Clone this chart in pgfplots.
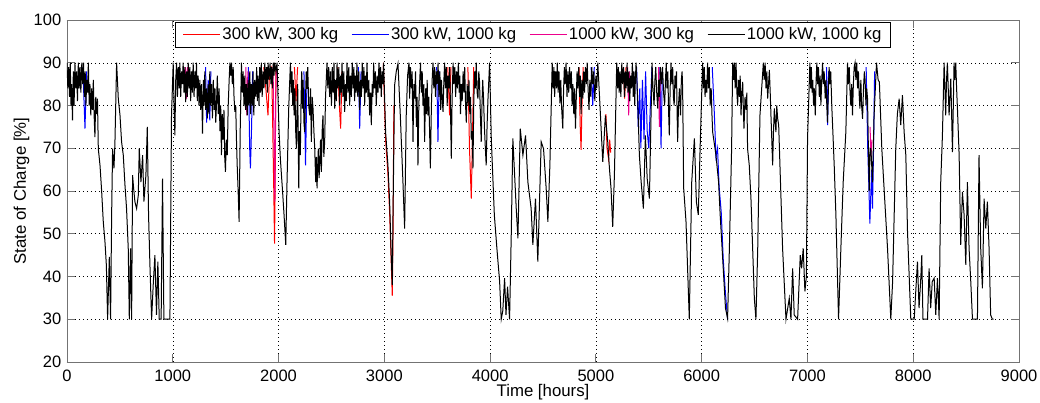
\documentclass[border=0pt]{standalone}
\usepackage{fontspec}
\setmainfont{Liberation Sans}
\usepackage{pgfplots}
\usepackage{pgfplotstable}
\pgfplotsset{compat=1.18}

\pgfplotstableread{
x y
0 90
8 84
16 89
24 82
31 90
38 80
44 85
52 76.5
60 88
67 80
75 90
83 84
91 88
99 81
107 90
115 84
123 89
131 83
140 90
148 85
156 90
164 82
172 88
179 80
186 86
194 83
202 90
210 80
217 85
225 77.7
233 84
241 79
249 86
256 78
264 72.6
272 82
280 78
288 81.6
296 69.9
312 66.0
327 60.2
343 52.8
359 48.1
372 42.7
384 30
400 44.6
412 30
422 54.4
431 69.9
444 65.3
453 71.1
469 90
485 81.6
501 77.7
516 71.5
532 68.4
548 61.4
563 55.9
579 46.6
589 30
601 46.6
611 30
620 63.7
630 60.6
642 57.5
658 55.9
674 59.0
683 69.9
699 62.1
715 68.4
727 57.5
746 63.7
759 75.0
771 54.4
784 42.7
800 30
815 38.0
831 45.0
846 31.0
859 43.5
872 30
890 30
903 62.9
916 30
973 30
988 77.7
1004 90
1012 80
1020 73
1028 86
1036 90
1044 82
1052 89
1060 84
1067 90
1075 82
1083 88
1090 85
1098 90
1106 83
1114 89
1122 80.8
1130 88
1138 82
1146 90
1154 84
1161 89
1169 81
1177 88
1185 83
1193 90
1201 82
1209 88
1217 84
1224 90
1232 81
1240 87
1248 80
1256 86
1264 79
1272 85
1281 73.4
1290 86
1296 80
1303 88
1311 79
1319 84
1327 77
1335 85
1343 78
1350 88
1358 80
1366 85
1375 77
1383 86
1391 79
1399 84
1406 76
1413 80
1421 87
1430 78
1438 84
1446 74
1453 80
1460 68.4
1468 78
1476 72
1484 79
1491 68
1498 64.5
1506 72
1515 68.4
1524 80
1533 86
1540 90
1548 87
1555 90
1563 85
1571 89
1579 82
1587 78.5
1595 80
1602 72
1609 66
1618 60
1627 52.8
1638 75
1649 90
1657 83
1665 88
1673 80
1681 87
1688 79
1696 85
1704 77.7
1712 86
1720 80
1728 88
1736 78
1744 85
1752 80
1759 88
1766 77.7
1775 86
1785 82
1793 89
1800 81
1807 87
1815 80
1822 89
1829 83
1837 90
1845 82
1854 88
1862 84
1870 90
1879 85
1887 89
1895 83
1901 90
1910 86
1920 90
1928 85
1935 89
1942 84
1950 90
1957 87
1964 90
1975 88
1986 90
1995 82
2005 73.8
2017 67.6
2036 60.6
2052 54.4
2068 47.4
2080 62.1
2096 79.3
2112 90
2120 83
2127 88
2134 80
2140 86
2147 77.7
2155 84
2162 74
2169 69.9
2175 80
2181 85
2186 72
2191 60.6
2198 74
2206 68.4
2213 82
2219 88
2225 79.3
2232 86
2240 76
2247 73.8
2255 82
2262 88
2269 83.9
2276 89
2285 80
2294 77.7
2302 84
2310 71.5
2318 82
2326 79.3
2334 74
2342 70
2351 62.1
2357 68
2364 60.6
2370 66
2376 69.9
2383 63
2389 66
2397 72
2405 64.5
2412 74
2420 77.7
2428 68
2436 71.5
2444 82
2451 86
2458 90
2466 84
2474 89
2483 82
2491 88
2500 80
2508 89
2516 83
2524 90
2531 79.3
2539 86
2546 81
2553 90
2561 84
2570 89
2578 80
2586 87
2593 83
2600 90
2609 82
2617 88
2625 78.5
2633 85
2640 81
2647 90
2656 83
2664 89
2672 80
2680 87
2688 82
2697 90
2705 84
2712 89
2719 81
2727 87
2734 83
2741 90
2749 82
2758 88
2767 79
2775 86
2783 82
2791 90
2799 84
2807 89
2814 80
2822 87
2829 83
2836 90
2845 82
2853 86
2861 77.7
2869 83
2877 75.4
2885 85
2892 82
2899 90
2907 84
2915 88
2924 80
2932 87
2940 83
2949 90
2957 84
2964 89
2971 82
2979 88
2986 85
2993 90
3012 73.8
3034 66.0
3050 57.5
3063 46.6
3075 38.0
3082 54.4
3097 84.7
3113 88
3129 89.8
3151 77.7
3176 62.1
3192 51.2
3207 77.7
3220 87
3233 90
3239 81.6
3247 89
3255 84
3263 88
3271 71.5
3279 85
3287 81.6
3295 88
3303 75
3310 82
3318 66
3326 80
3334 85.5
3342 90
3350 83
3358 88
3365 80
3373 85
3381 71.5
3390 84
3398 78
3405 86
3412 77.7
3420 82
3428 74
3435 65.3
3445 80
3452 86
3460 90
3468 84
3476 89
3484 82
3492 88
3500 85
3508 90
3516 82
3525 88
3533 79
3540 86
3548 81
3555 78.5
3563 86
3570 90
3578 84
3586 89
3594 80
3602 87
3610 84
3618 89
3625 80
3633 67.6
3641 82
3650 90
3658 85
3666 89
3674 82
3682 88
3690 84
3700 90
3708 83
3714 87
3720 78
3728 85
3736 81
3745 88
3753 83
3760 89
3768 80
3775 76
3783 85
3792 80
3800 86
3808 78
3815 82
3822 72
3830 74
3838 65.3
3845 80
3853 88
3861 84
3869 90
3877 83
3885 81.6
3893 88
3900 85.5
3908 78
3916 71.5
3923 80
3930 86
3938 81.6
3946 75
3955 70
3963 66
3971 75
3980 81.6
3988 86
3995 90
4011 72.3
4040 54.4
4064 46.6
4090 38.8
4105 30
4120 32
4137 39.6
4150 31
4165 37.6
4184 30
4200 50
4215 72.3
4247 55.9
4263 48.9
4285 74.6
4310 68.4
4335 73.0
4357 62.1
4388 55.9
4404 47.4
4429 58.2
4451 43.5
4483 71.5
4505 69.9
4530 60.6
4546 52.8
4565 66.0
4587 90
4595 84
4603 89
4610 82
4618 88
4627 84
4635 90
4643 83
4651 88
4660 80.5
4668 86
4675 80
4687 74.6
4695 84
4702 89
4710 85
4718 90
4727 82
4735 88
4743 83
4751 89
4760 84
4768 88
4775 80
4783 85
4791 78
4799 84
4807 74.6
4815 82
4822 88
4830 84
4838 89
4846 82
4853 87
4860 78
4868 86
4877 81.6
4885 88
4893 83
4901 89
4910 85
4918 90
4926 84
4935 79
4943 86
4952 82
4961 89
4970 85
4980 88
4990 81
5000 87
5008 84
5018 90
5040 79.3
5065 66.8
5090 77.7
5112 71.5
5128 65.3
5143 60.6
5159 51.6
5175 63.7
5197 90
5205 84
5212 89
5220 83
5228 88
5236 82
5245 90
5253 85
5262 89
5270 82
5278 88
5286 84
5295 90
5303 83
5311 88
5320 81
5328 87
5336 84
5345 90
5353 82
5360 88
5367 80
5373 86
5380 90
5395 81.6
5411 68.4
5428 62.1
5449 55.9
5468 73.0
5485 62.9
5506 58.2
5531 90
5540 84
5550 80
5558 86
5566 89
5575 83
5585 79.3
5593 86
5600 82
5610 89
5620 85
5630 89
5640 83
5650 80
5658 86
5665 90
5672 84
5680 88
5688 78
5694 73
5702 84
5710 90
5718 85
5726 89
5733 82
5740 80
5748 87
5755 84
5762 88
5768 78
5773 71.5
5781 80
5790 84
5800 77.7
5808 86
5815 88
5820 84
5830 60.6
5852 52.8
5867 41.9
5883 30
5906 62.1
5931 72.3
5950 57.5
5968 54.4
5987 71.5
6009 90
6017 84
6025 89
6032 82
6040 86
6048 83
6056 90
6064 84
6072 89
6080 80
6090 84
6097 78
6104 73.8
6135 68.4
6160 62.1
6175 54.4
6204 41.9
6225 32.6
6245 30.2
6262 46.6
6283 69.9
6293 90
6301 86
6309 90
6317 84
6325 90
6333 83
6340 80
6348 86
6356 82
6364 87
6372 77.7
6380 83
6388 85.5
6394 79
6400 74.6
6410 82
6420 79
6427 83
6434 69.9
6450 66.0
6466 58.2
6498 34.9
6513 30
6530 46.6
6551 77.7
6583 90
6591 86
6600 90
6608 84
6616 88
6624 81.6
6632 85
6640 88.3
6648 83
6655 77.7
6663 72
6671 66
6679 74
6687 79.3
6695 76
6702 73.8
6710 80
6718 77
6728 75.4
6735 70
6740 66
6765 46.6
6797 30
6828 34.9
6844 30
6860 41.9
6875 31
6907 30
6932 45
6945 41.9
6960 46.6
6976 36.5
6990 40
7001 72.3
7023 90
7030 84
7037 89
7044 83
7050 86
7058 80
7066 84
7074 77.7
7082 86
7089 90
7096 85
7104 89
7112 82
7120 87
7127 80
7135 86
7143 90
7150 85
7158 88
7168 81.6
7176 86
7183 80
7190 76
7198 84
7205 89
7212 85
7220 88
7231 79.3
7240 74
7253 66
7269 54.4
7294 30
7316 46.6
7338 62.1
7363 73.8
7379 90
7387 85
7395 89
7403 83
7410 80
7418 85
7426 77.7
7434 85
7442 89
7450 90
7458 86
7466 90
7474 84
7482 88
7490 82
7496 79.3
7505 86
7512 80
7521 76.9
7530 84
7538 88
7545 86
7553 80
7560 84
7568 81.6
7576 70
7584 60
7592 70
7600 69.9
7615 62
7630 77.7
7653 90
7668 86
7680 85.5
7703 69.9
7730 58.2
7757 46.6
7788 30
7805 38.8
7820 54.4
7835 69.9
7850 78
7867 81.6
7882 75.4
7898 82.4
7914 73.8
7930 68.4
7946 50.5
7977 30
8009 30
8040 43.5
8055 32.6
8070 38.8
8081 45
8092 30
8135 30
8150 41.9
8165 32.6
8180 38.8
8198 39.6
8213 31
8229 39.6
8245 30
8260 62.1
8276 73.0
8292 90
8300 84
8307 77.7
8315 86
8323 90
8331 84
8339 77.7
8347 82
8355 86.3
8363 78
8371 69.1
8379 80
8386 90
8394 86
8402 90
8410 84
8418 79.3
8434 68.4
8449 47.4
8465 59.8
8481 54.4
8497 42.7
8512 62.1
8528 46.6
8544 38.8
8560 30
8607 30
8622 68.4
8638 46.6
8654 37.2
8670 58.2
8686 51.2
8701 57.5
8717 46.6
8732 31
8748 30
8760 30
}\blackdata

\pgfplotstableread{
x y
1860 89
1880 84
1900 77.7
1915 88
1935 89
1945 75
1955 60
1962 47.7
1968 62
1975 89
1980 nan
2150 89
2165 81
2180 89
2190 nan
2560 89
2575 80
2587 74.6
2600 88
2610 nan
2990 90
3012 72
3034 64
3050 55
3063 45
3075 35.5
3082 50
3090 80
3095 nan
3600 89
3617 77.7
3630 89
3640 nan
3790 89
3805 70
3822 58.2
3835 75
3845 89
3850 nan
4840 89
4852 75
4860 69.6
4870 82
4880 89
4890 nan
5095 78
5105 70
5120 67.5
5130 72
5140 69
5145 nan
5260 89
5272 81.6
5285 89
}\reddata

\pgfplotstableread{
x y
150 89
170 74.6
185 88
190 nan
1310 89
1320 76
1335 86
1350 76.5
1360 88
1365 nan
1715 89
1727 70
1734 65.3
1745 75
1755 88
1760 nan
2240 88
2255 66
2268 85
2270 nan
2755 89
2767 74.6
2780 88
2785 nan
3495 89
3507 71.5
3520 88
3525 nan
4955 89
4970 80
4985 89
4990 nan
5385 89
5400 75
5415 84
5425 70
5440 86
5455 72
5470 88
5485 74
5500 70
5515 80
5530 89
5535 nan
5605 89
5616 70
5628 88
5630 nan
6100 89
6120 78
6135 68
6150 70
6165 61
6185 55
6204 44
6225 36
6245 30
6250 nan
7180 89
7190 75.4
7200 88
7205 nan
7555 89
7570 70
7582 60
7590 52.4
7600 60
7608 65
7615 55.9
7625 70
7635 88
}\bluedata

\pgfplotstableread{
x y
1120 89
1130 81.6
1140 89
1145 nan
1690 89
1700 77.7
1710 88
1715 nan
1948 89
1958 70
1965 57.5
1972 80
1980 89
1985 nan
5300 89
5310 77.7
5320 88
5325 nan
5592 89
5600 75
5610 88
5615 nan
7592 75
7600 68
7610 72
}\magdata

\begin{document}
\fontsize{16.8}{20}\selectfont
\begin{tikzpicture}
\useasboundingbox (-67pt,-41pt) rectangle (973pt,362pt);
\begin{axis}[
  at={(0pt,0pt)}, anchor=south west,
  scale only axis, width=952pt, height=342pt,
  xmin=0, xmax=9000, ymin=20, ymax=100,
  xtick={0,1000,...,9000}, ytick={20,30,...,100},
  scaled x ticks=false,
  /pgf/number format/1000 sep={},
  /pgf/number format/assume math mode=true,
  grid=major,
  grid style={black, dash pattern=on 0.8pt off 3.2pt, line width=0.5pt},
  tick align=inside, tick pos=both, major tick length=8pt,
  axis line style={black!55, line width=0.9pt},
  every tick/.style={black!55, line width=0.8pt},
  tick label style={font=\fontsize{16.5}{19}\selectfont},
  xticklabel style={yshift=-2pt},
  label style={font=\fontsize{16.5}{19}\selectfont},
  xlabel={Time [hours]},
  ylabel={State of Charge [\%]},
  every axis x label/.style={at={(axis description cs:0.5,0)}, yshift=-30pt, anchor=center},
  every axis y label/.style={at={(axis description cs:-0.0477,0.5)}, rotate=90, anchor=center},
  unbounded coords=jump,
  legend columns=4,
  legend style={at={(0.4895,0.994)}, anchor=north, draw=black, fill=white,
    line width=0.6pt,
    font=\fontsize{16.8}{20}\selectfont, inner xsep=7pt, inner ysep=3pt,
    nodes={inner xsep=2pt, inner ysep=2pt},
    /tikz/every even column/.append style={column sep=11pt}},
  legend image code/.code={\draw[#1, line width=0.8pt] (0pt,0pt) -- (37pt,0pt);},
  legend cell align=left,
]
\addplot[red, line width=1pt] table[x=x,y=y] {\reddata};
\addlegendentry{300 kW, 300 kg}
\addplot[blue, line width=1pt] table[x=x,y=y] {\bluedata};
\addlegendentry{300 kW, 1000 kg}
\addplot[magenta, line width=1pt] table[x=x,y=y] {\magdata};
\addlegendentry{1000 kW, 300 kg}
\addplot[black, line width=1pt] table[x=x,y=y] {\blackdata};
\addlegendentry{1000 kW, 1000 kg}
\end{axis}
\end{tikzpicture}
\end{document}
